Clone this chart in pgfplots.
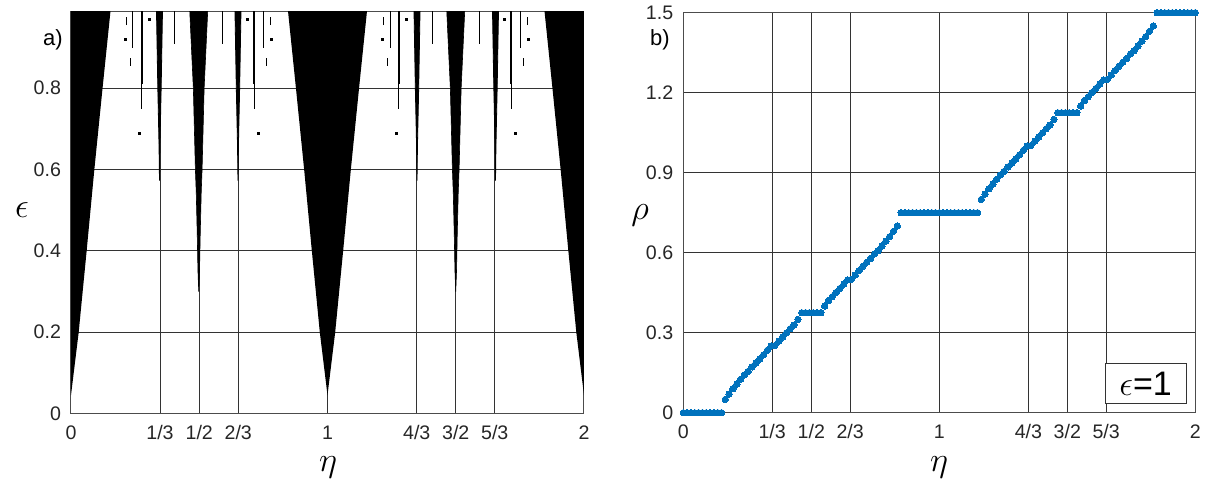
\documentclass[border=0pt]{standalone}
\usepackage{fontspec}
\setmainfont{Liberation Sans}
\usepackage{pgfplots}
\pgfplotsset{compat=1.18}
\definecolor{mblue}{RGB}{0,114,189}
\pgfplotsset{
  common/.style={
    scale only axis,
    xmin=0, xmax=2,
    xtick={0,0.347,0.5,0.652,1,1.348,1.5,1.652,2},
    xticklabels={0,1/3,1/2,2/3,1,4/3,3/2,5/3,2},
    grid=major,
    major grid style={black!80, line width=0.5pt},
    axis line style={black!70, line width=0.5pt},
    major tick length=0pt,
    tick label style={font=\fontsize{9.8}{11}\selectfont, text=black!85},
    xticklabel style={yshift=-2.5pt},
    yticklabel style={xshift=-1.5pt},
    /pgf/number format/assume math mode=true,
  },
  thinline/.style={black, line width=0.5pt},
  dotm/.style={only marks, mark=square*, mark size=0.5pt, black},
}
\begin{document}
\begin{tikzpicture}[x=1pt,y=1pt]
\path[use as bounding box] (0,0) rectangle (603,-243);
% ---------------- panel a ----------------
\begin{axis}[common, at={(35.5pt,-206.75pt)}, anchor=south west,
  width=256.5pt, height=201.25pt, ymin=0, ymax=0.99,
  ytick={0,0.2,0.4,0.6,0.8}, yticklabels={0,0.2,0.4,0.6,0.8}]
% main tongues
\addplot[fill=black, draw=none] coordinates {(0,0.045) (0.030,0.2) (0.061,0.4) (0.091,0.6) (0.123,0.8) (0.154,0.99) (0,0.99)} -- cycle;
\addplot[fill=black, draw=none] coordinates {(1,0.045) (1.030,0.2) (1.061,0.4) (1.091,0.6) (1.123,0.8) (1.154,0.99) (0.846,0.99) (0.877,0.8) (0.909,0.6) (0.939,0.4) (0.970,0.2)} -- cycle;
\addplot[fill=black, draw=none] coordinates {(2,0.045) (1.970,0.2) (1.939,0.4) (1.909,0.6) (1.877,0.8) (1.846,0.99) (2,0.99)} -- cycle;
% 1/2 and 3/2 tongues
\addplot[fill=black, draw=black, line width=0.3pt] coordinates {(0.498,0.30) (0.501,0.35) (0.504,0.446) (0.5077,0.544) (0.511,0.6) (0.519,0.8) (0.533,0.99) (0.463,0.99) (0.477,0.8) (0.485,0.6) (0.4883,0.544) (0.492,0.446) (0.495,0.35)} -- cycle;
\addplot[fill=black, draw=black, line width=0.3pt] coordinates {(1.5,0.30) (1.503,0.35) (1.506,0.446) (1.5097,0.544) (1.513,0.6) (1.521,0.8) (1.535,0.99) (1.465,0.99) (1.479,0.8) (1.487,0.6) (1.4903,0.544) (1.494,0.446) (1.497,0.35)} -- cycle;
% third tongues
\addplot[fill=black, draw=black, line width=0.4pt] coordinates {(0.345,0.573) (0.3468,0.66) (0.3515,0.8) (0.3567,0.99) (0.3333,0.99) (0.3385,0.8) (0.3432,0.66)} -- cycle;
\addplot[fill=black, draw=black, line width=0.4pt] coordinates {(0.651,0.573) (0.6528,0.66) (0.6575,0.8) (0.6627,0.99) (0.6393,0.99) (0.6445,0.8) (0.6492,0.66)} -- cycle;
\addplot[fill=black, draw=black, line width=0.4pt] coordinates {(1.349,0.573) (1.3508,0.66) (1.3555,0.8) (1.3607,0.99) (1.3373,0.99) (1.3425,0.8) (1.3472,0.66)} -- cycle;
\addplot[fill=black, draw=black, line width=0.4pt] coordinates {(1.655,0.573) (1.6568,0.66) (1.6615,0.8) (1.6667,0.99) (1.6433,0.99) (1.6485,0.8) (1.6532,0.66)} -- cycle;
% small features: lines
\addplot[thinline] coordinates {(0.2405,0.90) (0.2405,0.99)};
\addplot[thinline] coordinates {(0.752,0.90) (0.752,0.99)};
\addplot[thinline] coordinates {(1.244,0.90) (1.244,0.99)};
\addplot[thinline] coordinates {(1.753,0.90) (1.753,0.99)};
\addplot[thinline] coordinates {(0.217,0.955) (0.217,0.975)};
\addplot[thinline] coordinates {(0.776,0.955) (0.776,0.975)};
\addplot[thinline] coordinates {(1.218,0.955) (1.218,0.975)};
\addplot[thinline] coordinates {(1.779,0.955) (1.779,0.975)};
\addplot[thinline] coordinates {(0.233,0.855) (0.233,0.875)};
\addplot[thinline] coordinates {(0.763,0.855) (0.763,0.875)};
\addplot[thinline] coordinates {(1.235,0.855) (1.235,0.875)};
\addplot[thinline] coordinates {(1.763,0.855) (1.763,0.875)};
\addplot[thinline] coordinates {(0.276,0.75) (0.276,0.99)};
\addplot[thinline] coordinates {(0.716,0.75) (0.716,0.99)};
\addplot[thinline] coordinates {(1.276,0.75) (1.276,0.99)};
\addplot[thinline] coordinates {(1.718,0.75) (1.718,0.99)};
\addplot[black, line width=1pt] coordinates {(0.277,0.81) (0.277,0.99)};
\addplot[black, line width=1pt] coordinates {(0.715,0.81) (0.715,0.99)};
\addplot[black, line width=1pt] coordinates {(1.277,0.81) (1.277,0.99)};
\addplot[black, line width=1pt] coordinates {(1.717,0.81) (1.717,0.99)};
\addplot[thinline] coordinates {(0.405,0.91) (0.405,0.99)};
\addplot[thinline] coordinates {(0.590,0.91) (0.590,0.99)};
\addplot[thinline] coordinates {(1.409,0.91) (1.409,0.99)};
\addplot[thinline] coordinates {(1.592,0.91) (1.592,0.99)};
% small features: dots
\addplot[dotm] coordinates {(0.213,0.92) (0.780,0.92) (1.214,0.92) (1.783,0.92)
  (0.265,0.69) (0.732,0.69) (1.267,0.69) (1.731,0.69)
  (0.305,0.97) (0.687,0.97) (1.309,0.97) (1.688,0.97)};
\end{axis}
% ---------------- panel b ----------------
\begin{axis}[common, at={(341.65pt,-206.35pt)}, anchor=south west,
  width=256pt, height=200pt, ymin=0, ymax=1.5,
  ytick={0,0.3,0.6,0.9,1.2,1.5}, yticklabels={0,0.3,0.6,0.9,1.2,1.5}]
\addplot[only marks, mark=*, mark size=1.6pt, mark options={fill=mblue, draw=mblue, line width=0pt}] table {
x y
0 0
0.0149 0
0.0299 0
0.0448 0
0.0597 0
0.0746 0
0.0896 0
0.1045 0
0.1194 0
0.1343 0
0.1493 0
0.1642 0.050
0.1791 0.070
0.1940 0.090
0.2090 0.107
0.2239 0.125
0.2388 0.142
0.2537 0.155
0.2687 0.172
0.2836 0.186
0.2985 0.201
0.3134 0.217
0.3284 0.234
0.3433 0.250
0.3582 0.252
0.3731 0.268
0.3881 0.284
0.4030 0.299
0.4179 0.315
0.4328 0.329
0.4478 0.350
0.4627 0.375
0.4776 0.375
0.4925 0.375
0.5075 0.375
0.5224 0.375
0.5373 0.375
0.5522 0.400
0.5672 0.421
0.5821 0.435
0.5970 0.451
0.6119 0.466
0.6269 0.482
0.6418 0.498
0.6567 0.500
0.6716 0.516
0.6866 0.533
0.7015 0.549
0.7164 0.564
0.7313 0.578
0.7463 0.595
0.7612 0.608
0.7761 0.625
0.7910 0.643
0.8060 0.660
0.8209 0.680
0.8358 0.700
0.8507 0.750
0.8657 0.750
0.8806 0.750
0.8955 0.750
0.9104 0.750
0.9254 0.750
0.9403 0.750
0.9552 0.750
0.9701 0.750
0.9851 0.750
1.0000 0.750
1.0149 0.750
1.0299 0.750
1.0448 0.750
1.0597 0.750
1.0746 0.750
1.0896 0.750
1.1045 0.750
1.1194 0.750
1.1343 0.750
1.1493 0.750
1.1642 0.800
1.1791 0.820
1.1940 0.840
1.2090 0.857
1.2239 0.875
1.2388 0.892
1.2537 0.905
1.2687 0.922
1.2836 0.936
1.2985 0.951
1.3134 0.967
1.3284 0.984
1.3433 1.000
1.3582 1.002
1.3731 1.018
1.3881 1.034
1.4030 1.049
1.4179 1.065
1.4328 1.079
1.4478 1.100
1.4627 1.125
1.4776 1.125
1.4925 1.125
1.5075 1.125
1.5224 1.125
1.5373 1.125
1.5522 1.150
1.5672 1.171
1.5821 1.185
1.5970 1.201
1.6119 1.216
1.6269 1.232
1.6418 1.248
1.6567 1.250
1.6716 1.266
1.6866 1.283
1.7015 1.299
1.7164 1.314
1.7313 1.328
1.7463 1.345
1.7612 1.358
1.7761 1.375
1.7910 1.393
1.8060 1.410
1.8209 1.430
1.8358 1.450
1.8507 1.500
1.8657 1.500
1.8806 1.500
1.8955 1.500
1.9104 1.500
1.9254 1.500
1.9403 1.500
1.9552 1.500
1.9701 1.500
1.9851 1.500
2.0000 1.500
};
\node[draw=black!80, fill=white, line width=0.5pt, minimum width=40.5pt, minimum height=20pt, inner sep=1pt, font=\fontsize{17}{19}\selectfont] at (axis cs:1.806,0.108) {$\epsilon$=1};
\end{axis}
% labels
\node[font=\fontsize{11}{13}\selectfont] at (26.5,-20) {a)};
\node[font=\fontsize{11}{13}\selectfont] at (330,-20) {b)};
\node[font=\fontsize{16}{18}\selectfont] at (164,-233.5) {$\eta$};
\node[font=\fontsize{16}{18}\selectfont] at (469.5,-233.5) {$\eta$};
\node[font=\fontsize{16}{18}\selectfont] at (11,-105) {$\epsilon$};
\node[font=\fontsize{16}{18}\selectfont] at (320,-107.5) {$\rho$};
\end{tikzpicture}
\end{document}
